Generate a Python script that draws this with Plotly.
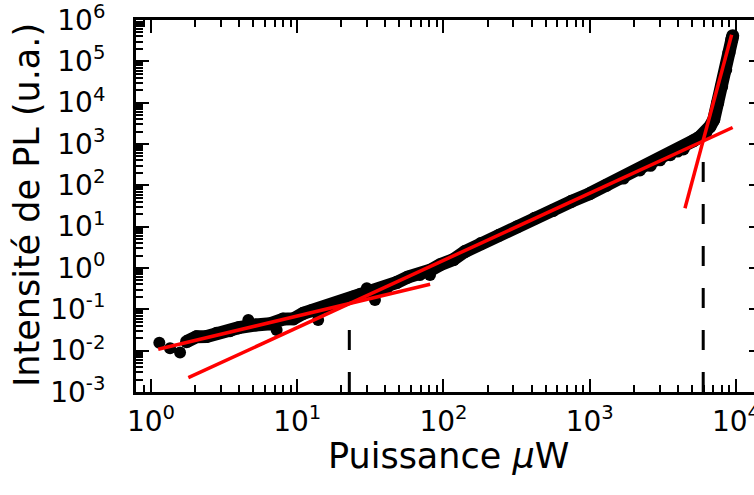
import plotly.graph_objects as go

power_uw = [1.75, 2.05, 2.40, 2.81, 3.47, 3.98, 5.2, 6.5, 8.0, 9.4,
            11.0, 12.5, 14.3, 16.0, 18.6, 21.0, 24.2, 27.0, 31.0, 36.0, 40.9, 48.0,
            57.0, 69.0, 82.0, 95.0, 117, 140, 180, 240, 320, 420, 560, 750, 1000, 1300, 1700,
            2200, 2600, 3020, 3550, 3980, 4365, 5105, 5675, 6210, 6637, 7047, 7499, 7980,
            8511, 8954, 9354, 9506]
intensity = [0.0165, 0.0218, 0.0220, 0.0264, 0.0305, 0.036, 0.042, 0.0447, 0.058, 0.0589,
             0.080, 0.092, 0.102, 0.113, 0.143, 0.166, 0.20, 0.23, 0.25, 0.29, 0.33, 0.45,
             0.60, 0.70, 0.90, 1.2, 1.6, 2.5, 3.9, 6.2, 10.0, 16.0, 24.5, 41, 63, 100, 150,
             236, 305, 414, 550, 676, 760, 1194, 1493, 1837, 2630, 3855, 9772, 24660, 62660,
             158900, 333400, 417000]

# isolated points that stand off the main band
stray_power_uw = [1.14, 1.35, 1.58, 4.63, 7.23, 13.9, 29.9, 34.0, 80.9]
stray_intensity = [0.0156, 0.0114, 0.0090, 0.0553, 0.0316, 0.055, 0.324, 0.169, 0.68]

# power-law fits (end points of each red segment)
fit_low_x, fit_low_y = [1.12, 81], [0.0108, 0.405]
fit_mid_x, fit_mid_y = [1.8, 9490], [0.00222, 2512]
fit_high_x, fit_high_y = [4480, 9340], [28, 4.4e5]

# threshold markers (vertical dashed lines)
thr1_x, thr1_y = [22.7, 22.7], [1e-3, 0.034]
thr2_x, thr2_y = [5970, 5970], [1e-3, 1150]

decades_x = [1, 10, 100, 1000, 10000]
decade_labels_x = ["10<sup>0</sup>", "10<sup>1</sup>", "10<sup>2</sup>", "10<sup>3</sup>", "10<sup>4</sup>"]
decades_y = [1e-3, 1e-2, 1e-1, 1, 10, 100, 1e3, 1e4, 1e5, 1e6]
decade_labels_y = ["10<sup>-3</sup>", "10<sup>-2</sup>", "10<sup>-1</sup>", "10<sup>0</sup>", "10<sup>1</sup>",
                   "10<sup>2</sup>", "10<sup>3</sup>", "10<sup>4</sup>", "10<sup>5</sup>", "10<sup>6</sup>"]

FONT = "DejaVu Sans"

fig = go.Figure()
fig.add_trace(go.Scatter(x=power_uw, y=intensity, mode="lines+markers",
                         line=dict(color="black", width=13),
                         marker=dict(color="black", size=13), showlegend=False))
fig.add_trace(go.Scatter(x=stray_power_uw, y=stray_intensity, mode="markers",
                         marker=dict(color="black", size=12), showlegend=False))
for fx, fy in [(fit_low_x, fit_low_y), (fit_mid_x, fit_mid_y), (fit_high_x, fit_high_y)]:
    fig.add_trace(go.Scatter(x=fx, y=fy, mode="lines", line=dict(color="#ff0000", width=3.5),
                             showlegend=False))
for tx, ty in [(thr1_x, thr1_y), (thr2_x, thr2_y)]:
    fig.add_trace(go.Scatter(x=tx, y=ty, mode="lines",
                             line=dict(color="black", width=3, dash="20px,22px"), showlegend=False))
# invisible trace so the right-hand tick axis gets drawn
fig.add_trace(go.Scatter(x=[10], y=[1], yaxis="y2", mode="markers",
                         marker=dict(opacity=0), showlegend=False, hoverinfo="skip"))

# figure is a little wider than the window so the right spine falls just off-screen
fig.update_layout(
    width=762, height=495,
    margin=dict(l=136, r=0, t=20, b=103),
    plot_bgcolor="white", paper_bgcolor="white",
    font=dict(family=FONT, color="black"),
    xaxis=dict(type="log", range=[-0.1026, 4.178], tickmode="array", tickvals=decades_x,
               ticktext=decade_labels_x, ticks="inside", ticklen=13, tickwidth=2,
               tickcolor="black", showline=True, linewidth=3, linecolor="black",
               mirror="ticks", showgrid=False, zeroline=False, automargin=False,
               tickfont=dict(size=28), ticklabelstandoff=2, ticklabeloverflow="allow",
               minor=dict(dtick="D1", ticks="inside", ticklen=7, tickwidth=1.5,
                          tickcolor="black", showgrid=False)),
    yaxis=dict(type="log", range=[-3, 6], tickmode="array", tickvals=decades_y,
               ticktext=decade_labels_y, ticks="inside", ticklen=13, tickwidth=2,
               tickcolor="black", showline=True, linewidth=3, linecolor="black",
               mirror=False, showgrid=False, zeroline=False, automargin=False,
               tickfont=dict(size=28), ticklabelstandoff=22, ticklabeloverflow="allow",
               minor=dict(dtick="D1", ticks="inside", ticklen=7, tickwidth=1.5,
                          tickcolor="black", showgrid=False)),
    yaxis2=dict(type="log", range=[-3, 6], overlaying="y", side="right",
                tickmode="array", tickvals=decades_y, ticks="inside", ticklen=13,
                tickwidth=2, tickcolor="black", showticklabels=False, showline=True,
                linewidth=3, linecolor="black", showgrid=False, zeroline=False,
                automargin=False),
    annotations=[
        dict(text="Puissance <i>μ</i>W", xref="paper", yref="paper", x=0.4992, y=-0.171,
             xanchor="center", yanchor="middle", showarrow=False, font=dict(size=35)),
        dict(text="Intensité de PL (u.a.)", xref="paper", yref="paper", x=-0.1741, y=0.5027,
             xanchor="center", yanchor="middle", textangle=-90, showarrow=False,
             font=dict(size=35)),
    ],
)

fig.write_html("out.html", config={"displayModeBar": False},
               post_script="document.body.style.margin='0';document.body.style.overflow='hidden';")
